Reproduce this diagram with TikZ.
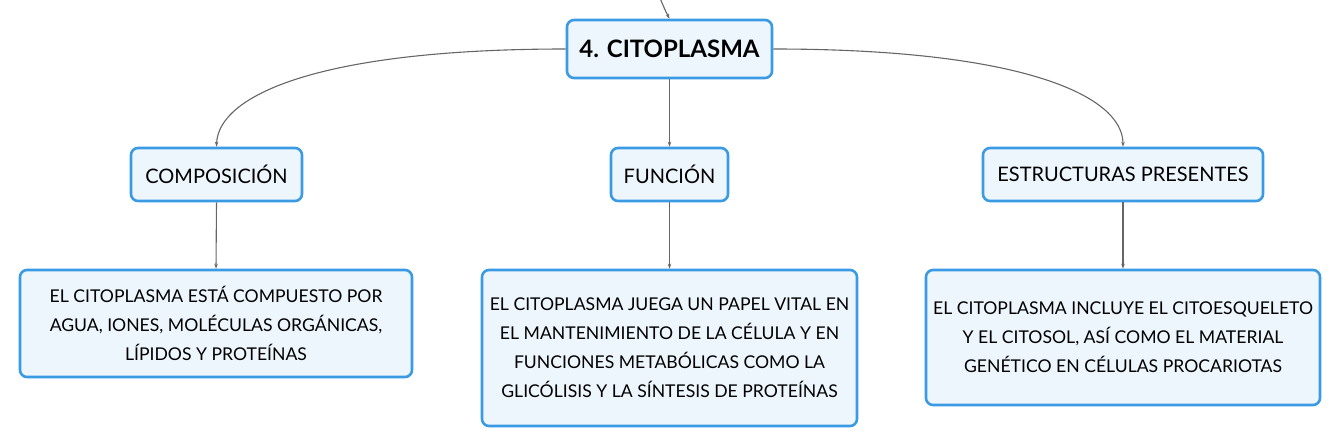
\documentclass[tikz,border=0pt]{standalone}
\usepackage{fontspec}
\setmainfont{Lato}
\usetikzlibrary{arrows.meta}
\definecolor{bord}{HTML}{3A9AE3}
\definecolor{fillc}{HTML}{EEF6FD}
\definecolor{linec}{HTML}{666666}
\begin{document}
\begin{tikzpicture}[x=1pt,y=-1pt,
  box/.style={draw=bord,line width=2.6pt,fill=fillc,rounded corners=7pt,inner sep=0pt,align=center,font=\fontsize{17.6}{29}\selectfont},
  mid/.style={box,font=\fontsize{20}{24}\selectfont},
  conn/.style={draw=linec,line width=1.1pt,-{Stealth[length=5pt,width=3.5pt]}}]
\useasboundingbox (0,0) rectangle (1340,447);
\node[box,minimum width=205pt,minimum height=58pt,font=\fontsize{24}{28}\selectfont\bfseries] (title) at (669.5,49) {4. CITOPLASMA};
\node[mid,minimum width=171pt,minimum height=53pt] (comp) at (216.5,174.5) {COMPOSICIÓN};
\node[mid,minimum width=117pt,minimum height=53pt] (func) at (669.5,174.5) {FUNCIÓN};
\node[mid,minimum width=280pt,minimum height=53pt] (estr) at (1123,174.5) {ESTRUCTURAS PRESENTES};
\node[box,minimum width=392pt,minimum height=107pt] (d1) at (216,323.5) {EL CITOPLASMA ESTÁ COMPUESTO POR\\AGUA, IONES, MOLÉCULAS ORGÁNICAS,\\LÍPIDOS Y PROTEÍNAS};
\node[box,minimum width=375pt,minimum height=156pt] (d2) at (669.5,348) {EL CITOPLASMA JUEGA UN PAPEL VITAL EN\\EL MANTENIMIENTO DE LA CÉLULA Y EN\\FUNCIONES METABÓLICAS COMO LA\\GLICÓLISIS Y LA SÍNTESIS DE PROTEÍNAS};
\node[box,minimum width=394pt,minimum height=135pt] (d3) at (1123,337.5) {EL CITOPLASMA INCLUYE EL CITOESQUELETO\\Y EL CITOSOL, ASÍ COMO EL MATERIAL\\GENÉTICO EN CÉLULAS PROCARIOTAS};
\coordinate (top) at (660,-2);
\draw[conn] (top) .. controls (664,8) and (667,14) .. (title.north);
\draw[conn] (title.west) .. controls (320,49) and (218,95) .. (comp.north);
\draw[conn] (title.east) .. controls (1020,49) and (1123,95) .. (estr.north);
\draw[conn] (title.south) -- (func.north);
\draw[conn] (comp.south) -- (d1.north);
\draw[conn] (func.south) -- (d2.north);
\draw[conn] (estr.south) -- (d3.north);
\end{tikzpicture}
\end{document}
